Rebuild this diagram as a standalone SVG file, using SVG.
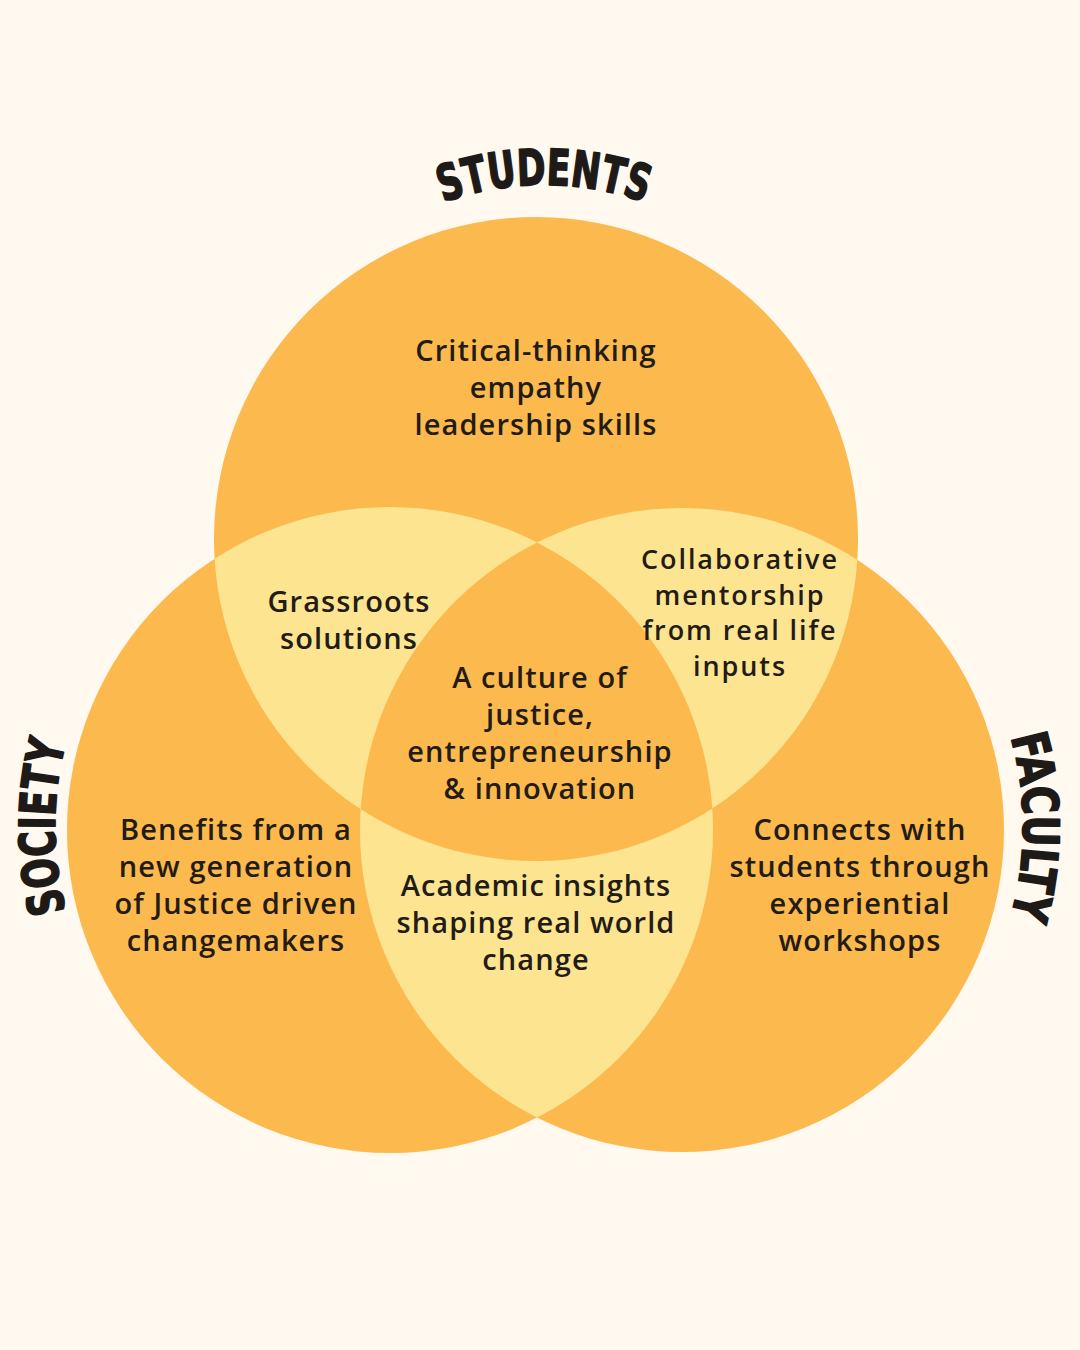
<svg xmlns="http://www.w3.org/2000/svg" width="1080" height="1350" viewBox="0 0 1080 1350">
<style>
.body{font-family:"Open Sans","Noto Sans",sans-serif;font-weight:600;font-size:29px;fill:#231c16;text-anchor:middle;letter-spacing:1.1px}
.tight{font-size:27px;letter-spacing:1.9px}
.title{font-family:"DejaVu Sans Condensed","DejaVu Sans",sans-serif;font-weight:bold;font-size:50px;fill:#1e1a18;stroke:#1e1a18;stroke-width:1.6px;stroke-linejoin:round}
.orange{fill:#fcb94d}
.light{fill:#fde491}
</style>
<defs>
<clipPath id="cT"><circle cx="536" cy="539" r="322"/></clipPath>
<clipPath id="cL"><circle cx="390" cy="830" r="323"/></clipPath>
<path id="arcTop" d="M 244 485 A 300 300 0 0 1 844 485"/>
<path id="arcL" d="M 99.2 992 A 330 330 0 0 1 99.2 662"/>
<path id="arcR" d="M 978.8 662 A 330 330 0 0 1 978.8 992"/>
</defs>
<rect width="1080" height="1350" fill="#fff9f0"/>
<g id="circles">
<g id="node-students"><circle class="orange" cx="536" cy="539" r="322"/></g>
<g id="node-society"><circle class="orange" cx="390" cy="830" r="323"/></g>
<g id="node-faculty"><circle class="orange" cx="682" cy="830" r="322"/></g>
<g id="lens-students-society" clip-path="url(#cT)"><circle class="light" cx="390" cy="830" r="323"/></g>
<g id="lens-students-faculty" clip-path="url(#cT)"><circle class="light" cx="682" cy="830" r="322"/></g>
<g id="lens-society-faculty" clip-path="url(#cL)"><circle class="light" cx="682" cy="830" r="322"/></g>
<g id="center" clip-path="url(#cT)"><g clip-path="url(#cL)"><circle class="orange" cx="682" cy="830" r="322"/></g></g>
</g>
<g id="titles">
<text class="title"><textPath href="#arcTop" startOffset="50%" text-anchor="middle" textLength="206" lengthAdjust="spacingAndGlyphs">STUDENTS</textPath></text>
<text class="title"><textPath href="#arcL" startOffset="50%" text-anchor="middle" textLength="170" lengthAdjust="spacingAndGlyphs">SOCIETY</textPath></text>
<text class="title"><textPath href="#arcR" startOffset="50%" text-anchor="middle" textLength="182" lengthAdjust="spacingAndGlyphs">FACULTY</textPath></text>
</g>
<g id="labels">
<g id="text-students"><text class="body" x="536" y="361">Critical-thinking</text><text class="body" x="536" y="398">empathy</text><text class="body" x="536" y="435">leadership skills</text></g>
<g id="text-grassroots"><text class="body" x="349" y="612">Grassroots</text><text class="body" x="349" y="649">solutions</text></g>
<g id="text-collab"><text class="body tight" x="740" y="569">Collaborative</text><text class="body tight" x="740" y="604.5">mentorship</text><text class="body tight" x="740" y="640">from real life</text><text class="body tight" x="740" y="675.5">inputs</text></g>
<g id="text-center"><text class="body" x="540" y="688">A culture of</text><text class="body" x="540" y="725">justice,</text><text class="body" x="540" y="762">entrepreneurship</text><text class="body" x="540" y="799">&amp; innovation</text></g>
<g id="text-society"><text class="body" x="236" y="840">Benefits from a</text><text class="body" x="236" y="877">new generation</text><text class="body" x="236" y="914">of Justice driven</text><text class="body" x="236" y="951">changemakers</text></g>
<g id="text-academic"><text class="body" x="536" y="896">Academic insights</text><text class="body" x="536" y="933">shaping real world</text><text class="body" x="536" y="970">change</text></g>
<g id="text-faculty"><text class="body" x="860" y="840">Connects with</text><text class="body" x="860" y="877">students through</text><text class="body" x="860" y="914">experiential</text><text class="body" x="860" y="951">workshops</text></g>
</g>
<g id="connectors"></g>
</svg>
